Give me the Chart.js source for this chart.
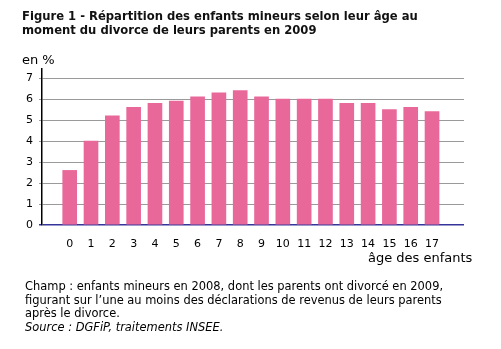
<!DOCTYPE html>
<html>
<head>
<meta charset="utf-8">
<script src="https://cdn.jsdelivr.net/npm/chart.js@4"></script>
<style>
  body { margin: 0; background: #fff; font-family: "DejaVu Sans", Verdana, sans-serif; color: #000; }
  #wrap { position: relative; width: 501px; height: 349px; overflow: hidden; }
  #chart { position: absolute; left: 0; top: 0; }
  .txt { position: absolute; white-space: nowrap; }
  #title { left: 22px; top: 9px; font-weight: bold; font-size: 11.6px; line-height: 14px; color: #111; }
  #unit { left: 22px; top: 52px; font-size: 13px; }
  #xname { left: 368px; top: 250px; font-size: 13px; }
  #note { left: 25px; top: 280px; font-size: 11.45px; line-height: 13.7px; }
</style>
</head>
<body>
<div id="wrap">
  <canvas id="chart" width="501" height="349"></canvas>
  <div class="txt" id="title">Figure 1 - Répartition des enfants mineurs selon leur âge au<br>moment du divorce de leurs parents en 2009</div>
  <div class="txt" id="unit">en %</div>
  <div class="txt" id="xname">âge des enfants</div>
  <div class="txt" id="note">Champ : enfants mineurs en 2008, dont les parents ont divorcé en 2009,<br>figurant sur l’une au moins des déclarations de revenus de leurs parents<br>après le divorce.<br><i>Source : DGFiP, traitements INSEE.</i></div>
</div>
<script>
/* age of the child at the divorce, share of children (%) */
var ages = [0, 1, 2, 3, 4, 5, 6, 7, 8, 9, 10, 11, 12, 13, 14, 15, 16, 17];
var shares = [2.6, 4.0, 5.2, 5.6, 5.8, 5.9, 6.1, 6.3, 6.4, 6.1, 6.0, 6.0, 6.0, 5.8, 5.8, 5.5, 5.6, 5.4];
var yTicks = [0, 1, 2, 3, 4, 5, 6, 7];

var font = { family: '"DejaVu Sans", Verdana, sans-serif', size: 11 };

new Chart(document.getElementById('chart'), {
  type: 'bar',
  data: {
    datasets: [{
      data: ages.map(function (a, i) { return { x: a, y: shares[i] }; }),
      backgroundColor: '#e8689a',
      barThickness: 14
    }]
  },
  options: {
    responsive: false,
    animation: false,
    layout: { padding: { left: 0, right: 37, top: 69, bottom: 0 } },
    plugins: { legend: { display: false }, tooltip: { enabled: false } },
    scales: {
      x: {
        type: 'linear',
        offset: false,
        min: -1.3,
        max: 18.5,
        afterBuildTicks: function (s) { s.ticks = ages.map(function (v) { return { value: v }; }); },
        afterFit: function (s) { s.height = 124; },
        grid: { display: false },
        border: { display: false },
        ticks: { color: '#000', font: font, padding: 5, maxRotation: 0, autoSkip: false }
      },
      y: {
        min: 0,
        max: 7.43,
        afterBuildTicks: function (s) { s.ticks = yTicks.map(function (v) { return { value: v }; }); },
        afterFit: function (s) { s.width = 42; },
        grid: {
          color: function (c) { return c.tick && c.tick.value === 0 ? '#34349a' : '#9a9a9a'; },
          lineWidth: function (c) { return c.tick && c.tick.value === 0 ? 1.5 : 1; },
          tickLength: 3
        },
        border: { display: true, color: '#000', width: 1.5 },
        ticks: { color: '#000', font: font, padding: 6 }
      }
    }
  }
});
</script>
</body>
</html>
